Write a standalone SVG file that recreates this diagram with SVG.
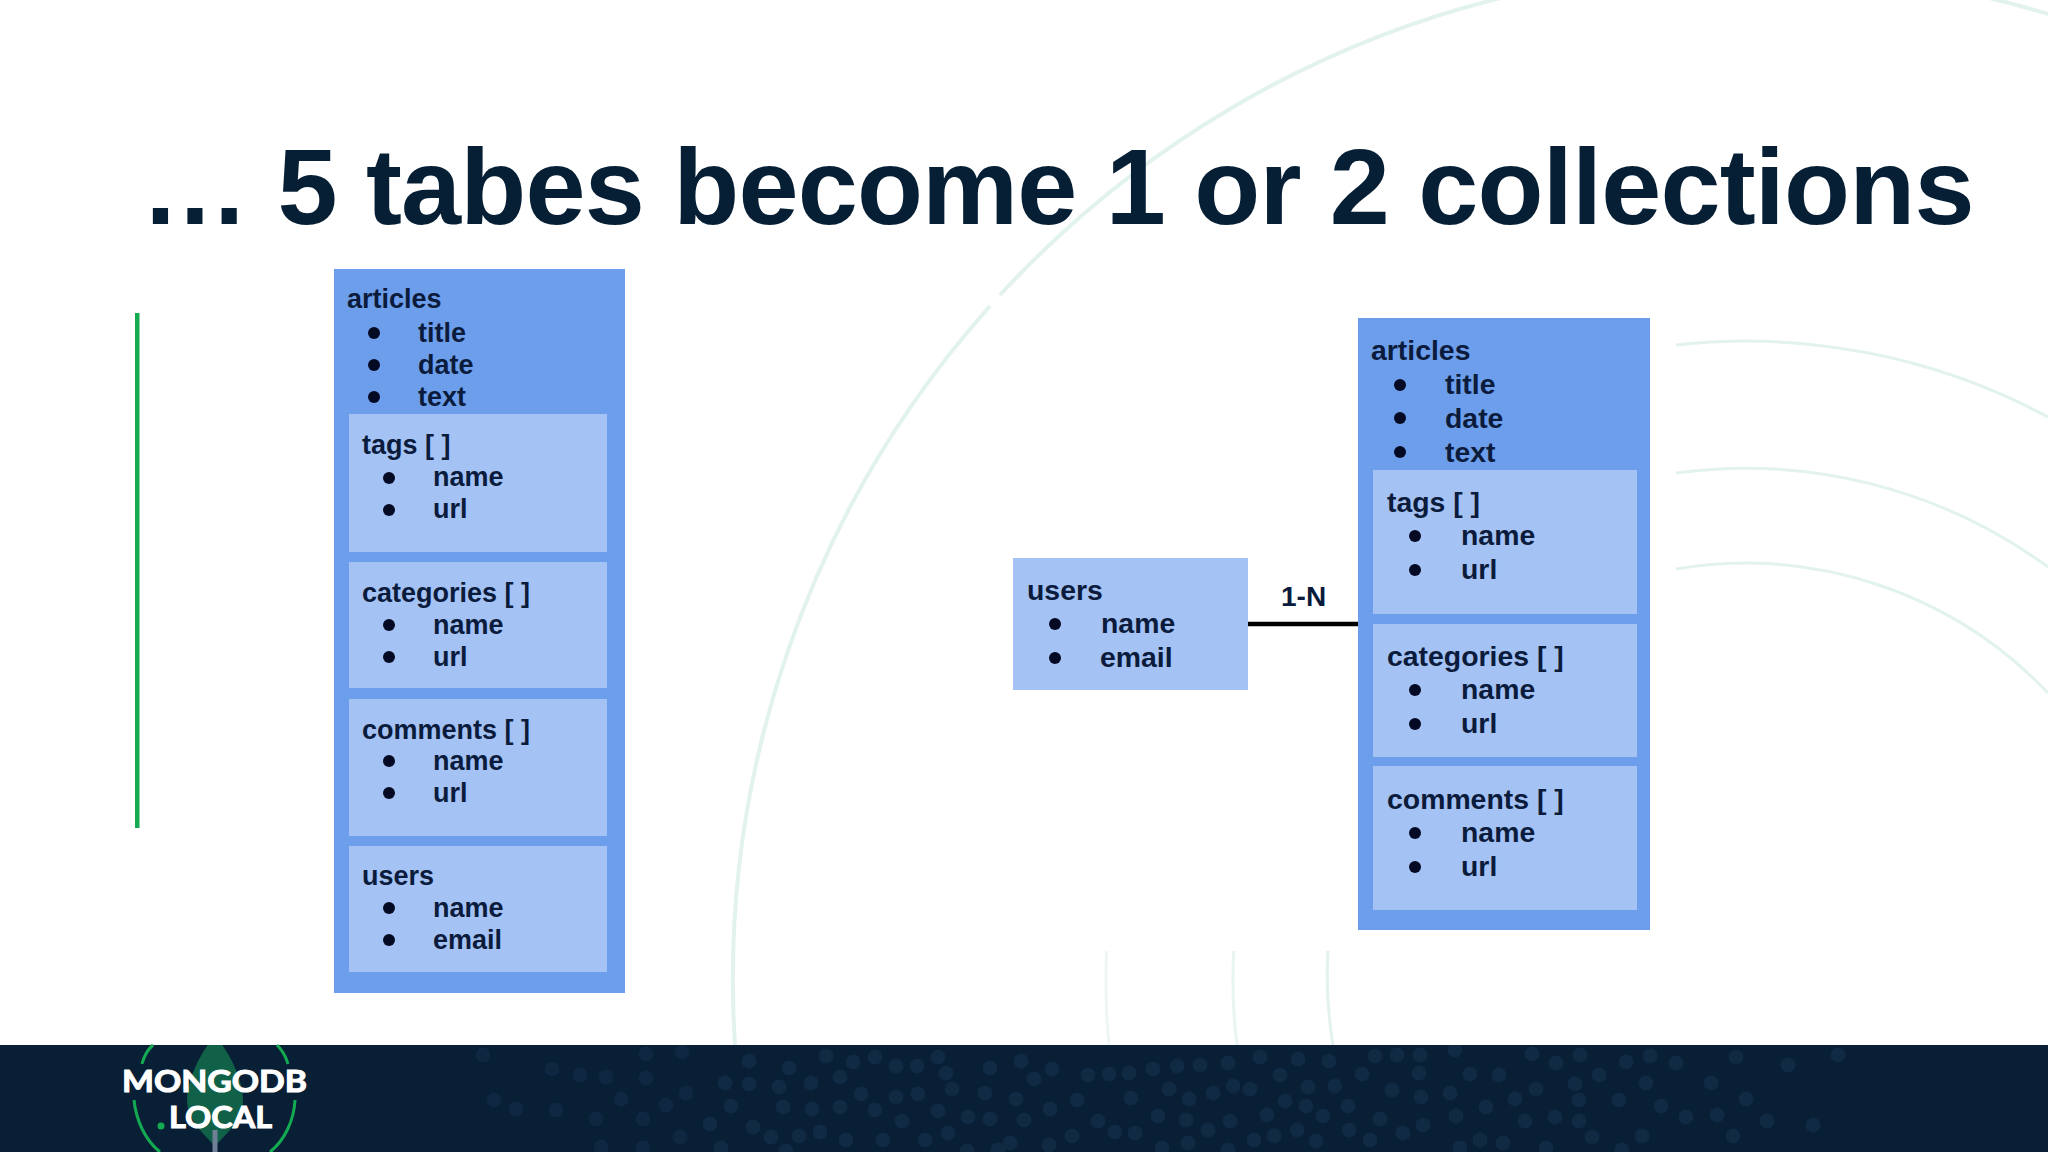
<svg xmlns="http://www.w3.org/2000/svg" width="2048" height="1152" viewBox="0 0 2048 1152">
<style>
.bg{fill:none;stroke:#e2f2ec;stroke-width:4}
.bg2{fill:none;stroke:#e2f2ec;stroke-width:3}
.outer{fill:#6d9eeb}
.inner{fill:#a4c2f4}
.l{font-family:"Liberation Sans",Arial,sans-serif;font-weight:700;font-size:27px;fill:#0b1b3c}
.r{font-family:"Liberation Sans",Arial,sans-serif;font-weight:700;font-size:28.400px;fill:#0b1b3c}
.b{fill:#050a24}
.title{font-family:"Liberation Sans",Arial,sans-serif;font-weight:700;font-size:108px;letter-spacing:-.8px;fill:#061f35}
.logo{font-family:Lato,"Liberation Sans",sans-serif;font-weight:700;font-size:29.500px;fill:#fff;stroke:#fff;stroke-width:1}
</style>
<defs><clipPath id="band"><rect y="1045" width="2048" height="107"/></clipPath></defs>
<rect width="2048" height="1152" fill="#fff"/>
<g id="background-arcs">
<path class="bg" d="M735 1045A1012 1012 0 0 1 990 306"/>
<path class="bg" d="M1000 295A1012 1012 0 0 1 1504.600 -3"/>
<path class="bg" d="M1985 -3A1012 1012 0 0 1 2048 14"/>
<path class="bg2" d="M1676 345A639 639 0 0 1 2048 417"/>
<path class="bg2" d="M1676 473A512 512 0 0 1 2048 567"/>
<path class="bg2" d="M1676 569A417 417 0 0 1 2048 693"/>
<path class="bg2" stroke-opacity=".6" d="M1106.700 951A639 639 0 0 0 1109 1045"/>
<path class="bg2" stroke-opacity=".8" d="M1233.800 951A512 512 0 0 0 1237 1045"/>
<path class="bg2" d="M1328 951A417 417 0 0 0 1333 1045"/>
</g>
<text class="title" x="141" y="224">… 5 tabes become 1 or 2 collections</text>
<rect id="accent" x="135" y="313" width="4.500" height="515" fill="#13aa52"/>
<g id="footer">
<rect y="1045" width="2048" height="107" fill="#081f36"/>
<g clip-path="url(#band)" fill="none" stroke-width="15" stroke-linecap="round">
<path stroke="#102a43" d="M749 1061h0M789 1068h0M826 1056h0M853 1062h0M875 1057h0M896 1066h0M917 1066h0M938 1057h0M946 1073h0M990 1068h0M1021 1061h0M1052 1069h0M1034 1079h0M1088 1075h0M1109 1074h0M1129 1073h0M1153 1069h0M1177 1066h0M1200 1065h0M1228 1063h0M1260 1057h0M1298 1059h0M1329 1061h0M1375 1056h0M1397 1055h0M1420 1055h0M1455 1050h0M1532 1054h0M1556 1063h0M1580 1055h0M1626 1062h0M1650 1056h0M1676 1063h0M1736 1057h0M1788 1065h0M1838 1055h0M1280 1075h0M1362 1074h0M1419 1073h0M1470 1074h0M1499 1075h0M1599 1075h0M1646 1083h0M1711 1083h0M1575 1084h0M1536 1089h0M1579 1100h0M1515 1099h0M1619 1100h0M1661 1106h0M1746 1099h0M1686 1117h0M1717 1115h0M1767 1121h0M1813 1125h0M1733 1136h0M1642 1136h0M1592 1137h0M1579 1121h0M1555 1117h0M1525 1121h0M1486 1107h0M1450 1093h0M1421 1097h0M1392 1090h0M1335 1086h0M1308 1087h0M1233 1086h0M1250 1089h0M1213 1093h0M1189 1099h0M1169 1089h0M1131 1098h0M1077 1100h0M1016 1099h0M985 1093h0M952 1089h0M918 1094h0M896 1097h0M861 1094h0M840 1077h0M811 1083h0M779 1087h0M749 1084h0M725 1083h0M731 1106h0M783 1107h0M812 1109h0M840 1107h0M875 1110h0M938 1111h0M968 1117h0M990 1119h0M1024 1120h0M1050 1109h0M1098 1121h0M1158 1116h0M1186 1120h0M1230 1121h0M1267 1115h0M1285 1101h0M1306 1106h0M1348 1106h0M1323 1116h0M1380 1119h0M1456 1116h0M1423 1125h0M1403 1133h0M1370 1140h0M1349 1130h0M1297 1130h0M1316 1141h0M1274 1136h0M1254 1140h0M1208 1130h0M1188 1143h0M1135 1133h0M1115 1132h0M1072 1136h0M1049 1145h0M1010 1143h0M948 1133h0M925 1140h0M883 1140h0M902 1121h0M846 1140h0M820 1132h0M799 1136h0M771 1137h0M753 1127h0M710 1124h0M721 1148h0M1480 1140h0M1503 1143h0M1460 1148h0M1546 1148h0M1622 1150h0M1162 1148h0M1228 1150h0M967 1151h0M998 1150h0M786 1151h0"/>
<path stroke="#0f2740" d="M483 1055h0M552 1069h0M580 1075h0M606 1077h0M646 1078h0M646 1054h0M682 1052h0M686 1093h0M666 1105h0M621 1099h0M494 1100h0M516 1109h0M556 1110h0M596 1119h0M643 1119h0M680 1137h0M601 1147h0M643 1148h0"/>
</g>
</g>
<g id="logo">
<path clip-path="url(#band)" fill="#116149" d="M215 1035C235 1060 243 1085 243 1100C243 1120 225 1135 215 1146C205 1135 187 1120 187 1100C187 1085 195 1060 215 1035Z"/>
<path d="M215 1130V1152" stroke="#6f7f95" stroke-width="5" fill="none"/>
<path fill="none" stroke="#13aa52" stroke-width="3" d="M153 1045Q145 1052 142 1064M288 1064Q285 1053 277 1045M134 1100C136 1120 145 1140 160 1152M270 1152C285 1140 294 1120 295 1100"/>
<text class="logo" x="122" y="1092" textLength="185" lengthAdjust="spacingAndGlyphs">MONGODB</text>
<circle cx="161" cy="1126" r="3.500" fill="#13aa52"/>
<text class="logo" x="169" y="1128" textLength="103" lengthAdjust="spacingAndGlyphs">LOCAL</text>
</g>
<g id="connectors">
<line x1="1248" y1="624" x2="1358" y2="624" stroke="#000" stroke-width="4.500"/>
<text class="r" style="font-size:28px" x="1281" y="606">1-N</text>
</g>
<g id="left-articles">
<rect class="outer" x="334" y="269" width="291" height="724"/>
<text class="l" x="347" y="308">articles</text>
<circle class="b" cx="374" cy="333" r="6"/><text class="l" x="418" y="342">title</text>
<circle class="b" cx="374" cy="365" r="6"/><text class="l" x="418" y="374">date</text>
<circle class="b" cx="374" cy="397" r="6"/><text class="l" x="418" y="406">text</text>
</g>
<g id="left-tags">
<rect class="inner" x="349" y="414" width="258" height="138"/>
<text class="l" x="362" y="454">tags [ ]</text>
<circle class="b" cx="389" cy="478" r="6"/><text class="l" x="433" y="486">name</text>
<circle class="b" cx="389" cy="510" r="6"/><text class="l" x="433" y="518">url</text>
</g>
<g id="left-categories">
<rect class="inner" x="349" y="562" width="258" height="126"/>
<text class="l" x="362" y="602">categories [ ]</text>
<circle class="b" cx="389" cy="625" r="6"/><text class="l" x="433" y="634">name</text>
<circle class="b" cx="389" cy="657" r="6"/><text class="l" x="433" y="666">url</text>
</g>
<g id="left-comments">
<rect class="inner" x="349" y="699" width="258" height="137"/>
<text class="l" x="362" y="739">comments [ ]</text>
<circle class="b" cx="389" cy="761" r="6"/><text class="l" x="433" y="770">name</text>
<circle class="b" cx="389" cy="793" r="6"/><text class="l" x="433" y="802">url</text>
</g>
<g id="left-users">
<rect class="inner" x="349" y="846" width="258" height="126"/>
<text class="l" x="362" y="885">users</text>
<circle class="b" cx="389" cy="908" r="6"/><text class="l" x="433" y="917">name</text>
<circle class="b" cx="389" cy="940" r="6"/><text class="l" x="433" y="949">email</text>
</g>
<g id="right-users">
<rect class="inner" x="1013" y="558" width="235" height="132"/>
<text class="r" x="1027" y="600">users</text>
<circle class="b" cx="1055" cy="624" r="6"/><text class="r" x="1101" y="633">name</text>
<circle class="b" cx="1055" cy="658" r="6"/><text class="r" x="1100" y="667">email</text>
</g>
<g id="right-articles">
<rect class="outer" x="1358" y="318" width="292" height="612"/>
<text class="r" x="1371" y="360">articles</text>
<circle class="b" cx="1400" cy="385" r="6"/><text class="r" x="1445" y="394">title</text>
<circle class="b" cx="1400" cy="418" r="6"/><text class="r" x="1445" y="428">date</text>
<circle class="b" cx="1400" cy="452" r="6"/><text class="r" x="1445" y="462">text</text>
</g>
<g id="right-tags">
<rect class="inner" x="1373" y="470" width="264" height="144"/>
<text class="r" x="1387" y="512">tags [ ]</text>
<circle class="b" cx="1415" cy="536" r="6"/><text class="r" x="1461" y="545">name</text>
<circle class="b" cx="1415" cy="570" r="6"/><text class="r" x="1461" y="579">url</text>
</g>
<g id="right-categories">
<rect class="inner" x="1373" y="624" width="264" height="133"/>
<text class="r" x="1387" y="666">categories [ ]</text>
<circle class="b" cx="1415" cy="690" r="6"/><text class="r" x="1461" y="699">name</text>
<circle class="b" cx="1415" cy="724" r="6"/><text class="r" x="1461" y="733">url</text>
</g>
<g id="right-comments">
<rect class="inner" x="1373" y="766" width="264" height="144"/>
<text class="r" x="1387" y="809">comments [ ]</text>
<circle class="b" cx="1415" cy="833" r="6"/><text class="r" x="1461" y="842">name</text>
<circle class="b" cx="1415" cy="867" r="6"/><text class="r" x="1461" y="876">url</text>
</g>
</svg>
